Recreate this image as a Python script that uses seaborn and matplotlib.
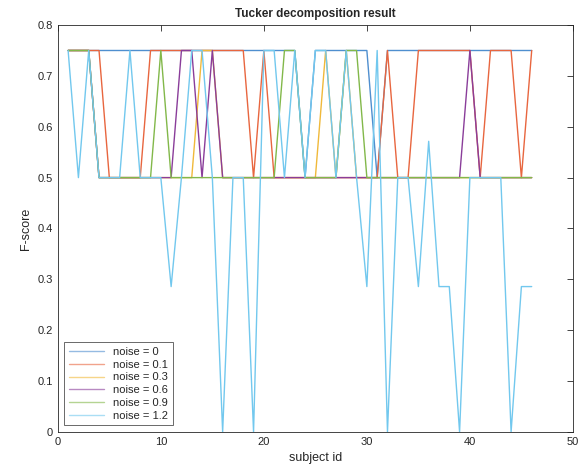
import numpy as np
import pandas as pd
import matplotlib
matplotlib.use("Agg")
import matplotlib.pyplot as plt
import seaborn as sns

# subject ids and F-scores
subject_id = list(range(1, 47))

noise_0 = [0.75] * 23 + [0.5] + [0.75] * 6 + [0.5] + [0.75] * 15

noise_01 = ([0.75] * 4 + [0.5] * 4 + [0.75] * 10 + [0.5] + [0.75] + [0.5] * 11
            + [0.75] + [0.5] * 2 + [0.75] * 6 + [0.5] + [0.75] * 3 + [0.5] + [0.75])

noise_03 = ([0.75] * 3 + [0.5] * 10 + [0.75] * 2 + [0.5] * 10 + [0.75] + [0.5]
            + [0.75] + [0.5] * 18)

noise_06 = ([0.75] * 3 + [0.5] * 8 + [0.75] * 2 + [0.5] + [0.75] + [0.5] * 24
            + [0.75] + [0.5] * 6)

noise_09 = ([0.75] * 3 + [0.5] * 6 + [0.75] + [0.5] * 11 + [0.75] * 2 + [0.5] * 4
            + [0.75] * 2 + [0.5] * 17)

noise_12 = [0.75, 0.5, 0.75, 0.5, 0.5, 0.5, 0.75, 0.5, 0.5, 0.5,
            0.2857, 0.5, 0.75, 0.75, 0.5, 0.0, 0.5, 0.5, 0.0, 0.75,
            0.75, 0.5, 0.75, 0.5, 0.75, 0.75, 0.5, 0.75, 0.5, 0.2857,
            0.75, 0.0, 0.5, 0.5, 0.2857, 0.5714, 0.2857, 0.2857, 0.0, 0.5,
            0.5, 0.5, 0.5, 0.0, 0.2857, 0.2857]

labels = ["noise = 0", "noise = 0.1", "noise = 0.3", "noise = 0.6", "noise = 0.9", "noise = 1.2"]
series = [noise_0, noise_01, noise_03, noise_06, noise_09, noise_12]
colors = ["#4f8fcf", "#e8663f", "#f0b93a", "#8a3d9a", "#82b84a", "#72c8ee"]

frames = []
for lab, vals in zip(labels, series):
    frames.append(pd.DataFrame({"subject id": subject_id, "F-score": vals, "noise": lab}))
df = pd.concat(frames, ignore_index=True)

sns.set_style("white")
plt.rcParams['font.family'] = ['Liberation Sans', 'DejaVu Sans']

fig = plt.figure(figsize=(5.84, 4.73), dpi=100)
ax = fig.add_axes([0.099, 0.087, 0.882, 0.860])

sns.lineplot(data=df, x="subject id", y="F-score", hue="noise",
             palette=dict(zip(labels, colors)), hue_order=labels,
             linewidth=1.0, ax=ax, estimator=None, sort=False)

ax.set_xlim(0, 50)
ax.set_ylim(0, 0.8)
ax.set_xticks(range(0, 51, 10))
ax.set_yticks(np.arange(0, 0.81, 0.1))
ax.set_yticklabels(["0", "0.1", "0.2", "0.3", "0.4", "0.5", "0.6", "0.7", "0.8"])
ax.tick_params(direction="in", length=4, width=0.6, labelsize=8,
               top=True, right=True, colors="#262626")
for sp in ax.spines.values():
    sp.set_visible(True)
    sp.set_color("#262626")
    sp.set_linewidth(0.6)

ax.set_title("Tucker decomposition result", fontsize=8.5, fontweight="bold", pad=6)
ax.set_xlabel("subject id", fontsize=9)
ax.set_ylabel("F-score", fontsize=9)

leg = ax.legend(loc="lower left", fontsize=8, frameon=True, fancybox=False,
                borderaxespad=0.6, handlelength=3.2, labelspacing=0.25)
leg.get_frame().set_edgecolor("#262626")
leg.get_frame().set_linewidth(0.6)
for line in leg.get_lines():
    line.set_alpha(0.6)

fig.savefig("out.png", dpi=100)
